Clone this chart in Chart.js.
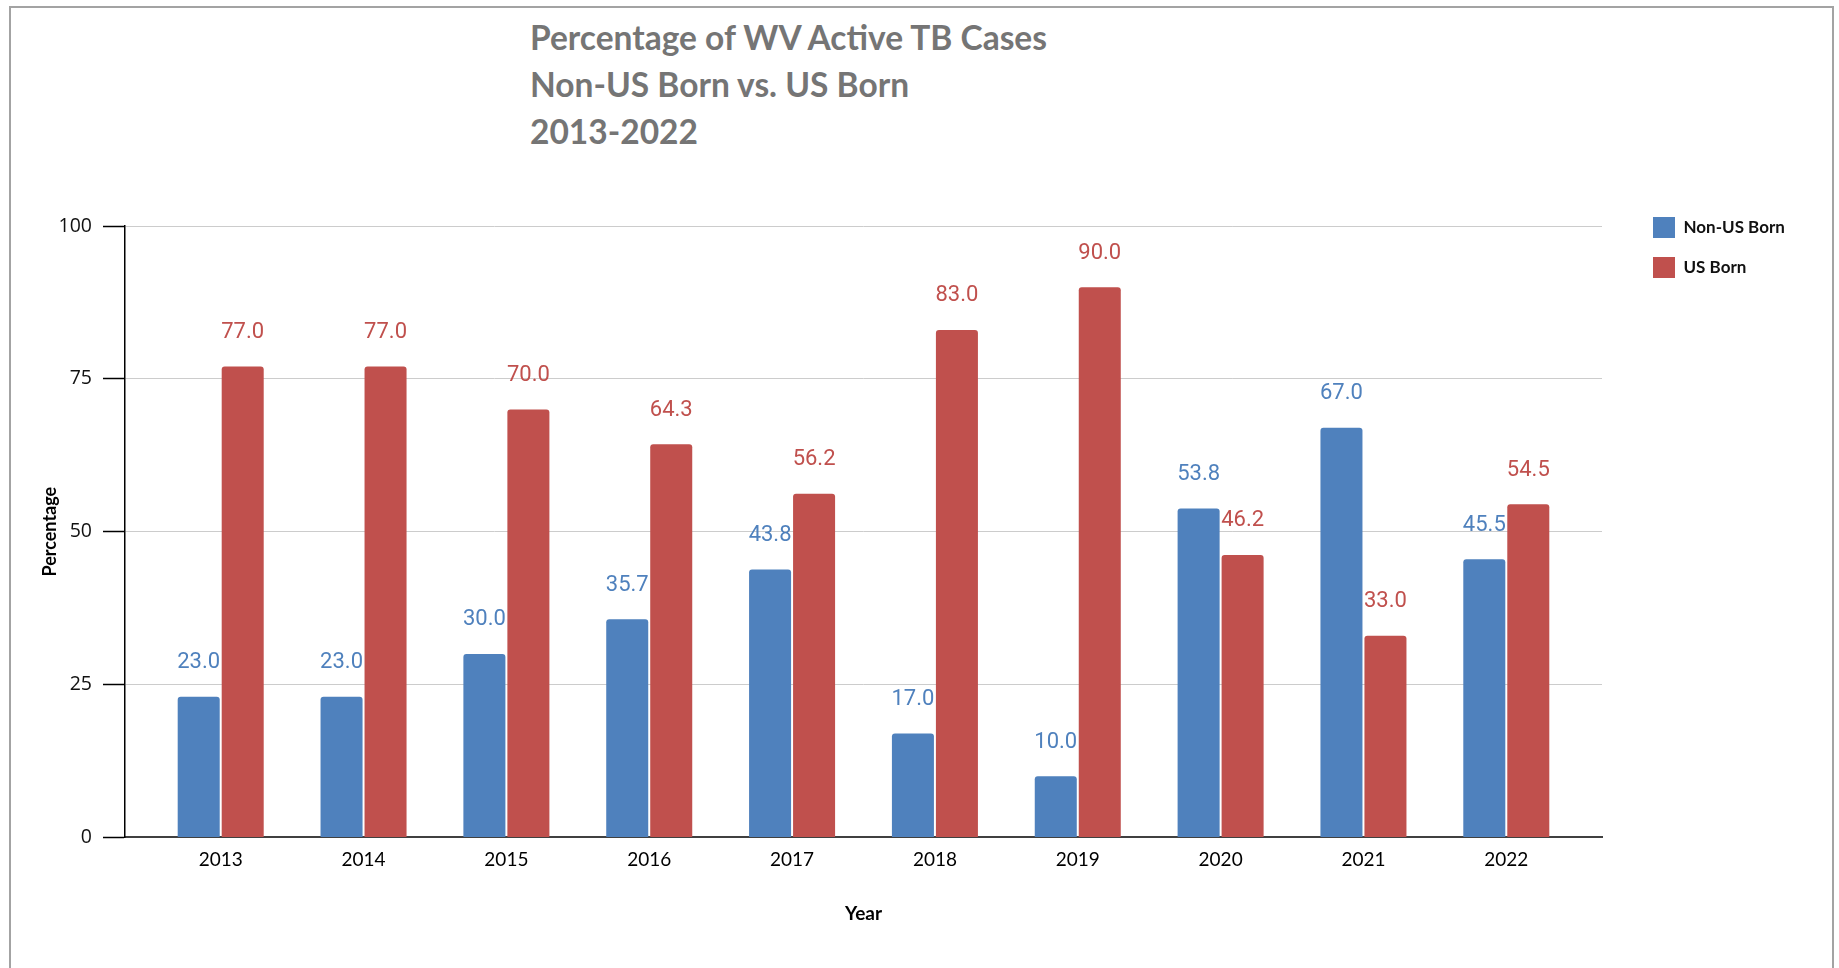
<!DOCTYPE html>
<html>
<head>
<meta charset="utf-8">
<script src="https://cdn.jsdelivr.net/npm/chart.js@4.4.0/dist/chart.umd.min.js"></script>
<style>
  html, body { margin: 0; padding: 0; background: #ffffff; }
  #wrap { position: relative; width: 1839px; height: 968px; overflow: hidden; }
  #frame { position: absolute; left: 9px; top: 6px; width: 1821px; height: 1000px; border: 2px solid #a3a3a3; box-sizing: content-box; }
  #title { position: absolute; left: 530px; top: 14px; font-family: Lato, sans-serif; font-weight: 700; font-size: 33.5px; line-height: 47px; color: #757575; white-space: pre; }
  #cv { position: absolute; left: 0; top: 0; }
</style>
</head>
<body>
<div id="wrap">
  <div id="frame"></div>
  <div id="title">Percentage of WV Active TB Cases
Non-US Born vs. US Born
2013-2022</div>
  <canvas id="cv" width="1839" height="968"></canvas>
</div>
<script>
const years = ['2013','2014','2015','2016','2017','2018','2019','2020','2021','2022'];
const nonUSBorn = [23.0, 23.0, 30.0, 35.7, 43.8, 17.0, 10.0, 53.8, 67.0, 45.5];
const usBorn = [77.0, 77.0, 70.0, 64.3, 56.2, 83.0, 90.0, 46.2, 33.0, 54.5];
const yTicks = [0, 25, 50, 75, 100];
const seriesNames = ['Non-US Born', 'US Born'];
const colors = ['#4f81bd', '#c0504d'];

const toPoints = arr => arr.map((v, i) => ({ x: i, y: v }));

const valueLabels = {
  id: 'valueLabels',
  afterDatasetsDraw(chart) {
    const ctx = chart.ctx;
    ctx.save();
    ctx.font = '22px Roboto';
    ctx.textAlign = 'center';
    ctx.textBaseline = 'middle';
    chart.data.datasets.forEach((ds, di) => {
      const meta = chart.getDatasetMeta(di);
      ctx.fillStyle = ds.backgroundColor;
      meta.data.forEach((el, i) => {
        ctx.fillText(ds.data[i].y.toFixed(1), el.x, el.y - 34);
      });
    });
    ctx.restore();
  }
};

const legendPlace = {
  id: 'legendPlace',
  afterLayout(chart) {
    const lg = chart.legend;
    if (!lg) return;
    const w = lg.width, h = lg.height;
    lg.left = 1653 - 19; lg.right = lg.left + w;
    lg.top = 217 - 19; lg.bottom = lg.top + h;
  }
};

new Chart(document.getElementById('cv'), {
  type: 'bar',
  data: {
    datasets: [
      { label: seriesNames[0], data: toPoints(nonUSBorn), backgroundColor: colors[0], borderRadius: 3 },
      { label: seriesNames[1], data: toPoints(usBorn), backgroundColor: colors[1], borderRadius: 3 }
    ]
  },
  options: {
    responsive: false,
    animation: false,
    devicePixelRatio: 1,
    categoryPercentage: 0.616,
    barPercentage: 0.955,
    layout: { padding: { left: 0, right: 237, top: 226, bottom: 39 } },
    plugins: {
      legend: {
        position: 'chartArea',
        align: 'start',
        labels: {
          boxWidth: 22, boxHeight: 21, padding: 19,
          color: '#111',
          font: { family: 'Lato', size: 17, weight: 'bold' }
        }
      },
      tooltip: { enabled: false }
    },
    scales: {
      x: {
        type: 'linear',
        offset: false,
        min: -0.67,
        max: 9.67,
        grid: { display: false, drawTicks: false, offset: false },
        border: { display: true, color: '#404040', width: 2 },
        ticks: {
          stepSize: 1, autoSkip: false, includeBounds: false, maxRotation: 0,
          padding: 11, color: '#000',
          font: { family: 'Lato', size: 19 },
          callback: v => (Number.isInteger(v) && years[v]) ? years[v] : ''
        },
        title: {
          display: true, text: 'Year', color: '#000',
          font: { family: 'Lato', size: 19, weight: 'bold' },
          padding: { top: 20, bottom: 4 }
        }
      },
      y: {
        min: 0, max: 100,
        afterBuildTicks: s => { s.ticks = yTicks.map(v => ({ value: v })); },
        afterFit: s => { s.width = 125; },
        grid: { color: '#cccccc', lineWidth: 1, tickColor: '#000', tickLength: 22, tickWidth: 1.5 },
        border: { display: true, color: '#000', width: 1.5 },
        ticks: { padding: 11, color: '#111', font: { family: 'Open Sans', size: 19.5 } },
        title: {
          display: true, text: 'Percentage', color: '#000',
          font: { family: 'Lato', size: 18, weight: 'bold' },
          padding: { top: 39, bottom: 0 }
        }
      }
    }
  },
  plugins: [valueLabels, legendPlace]
});
</script>
</body>
</html>
